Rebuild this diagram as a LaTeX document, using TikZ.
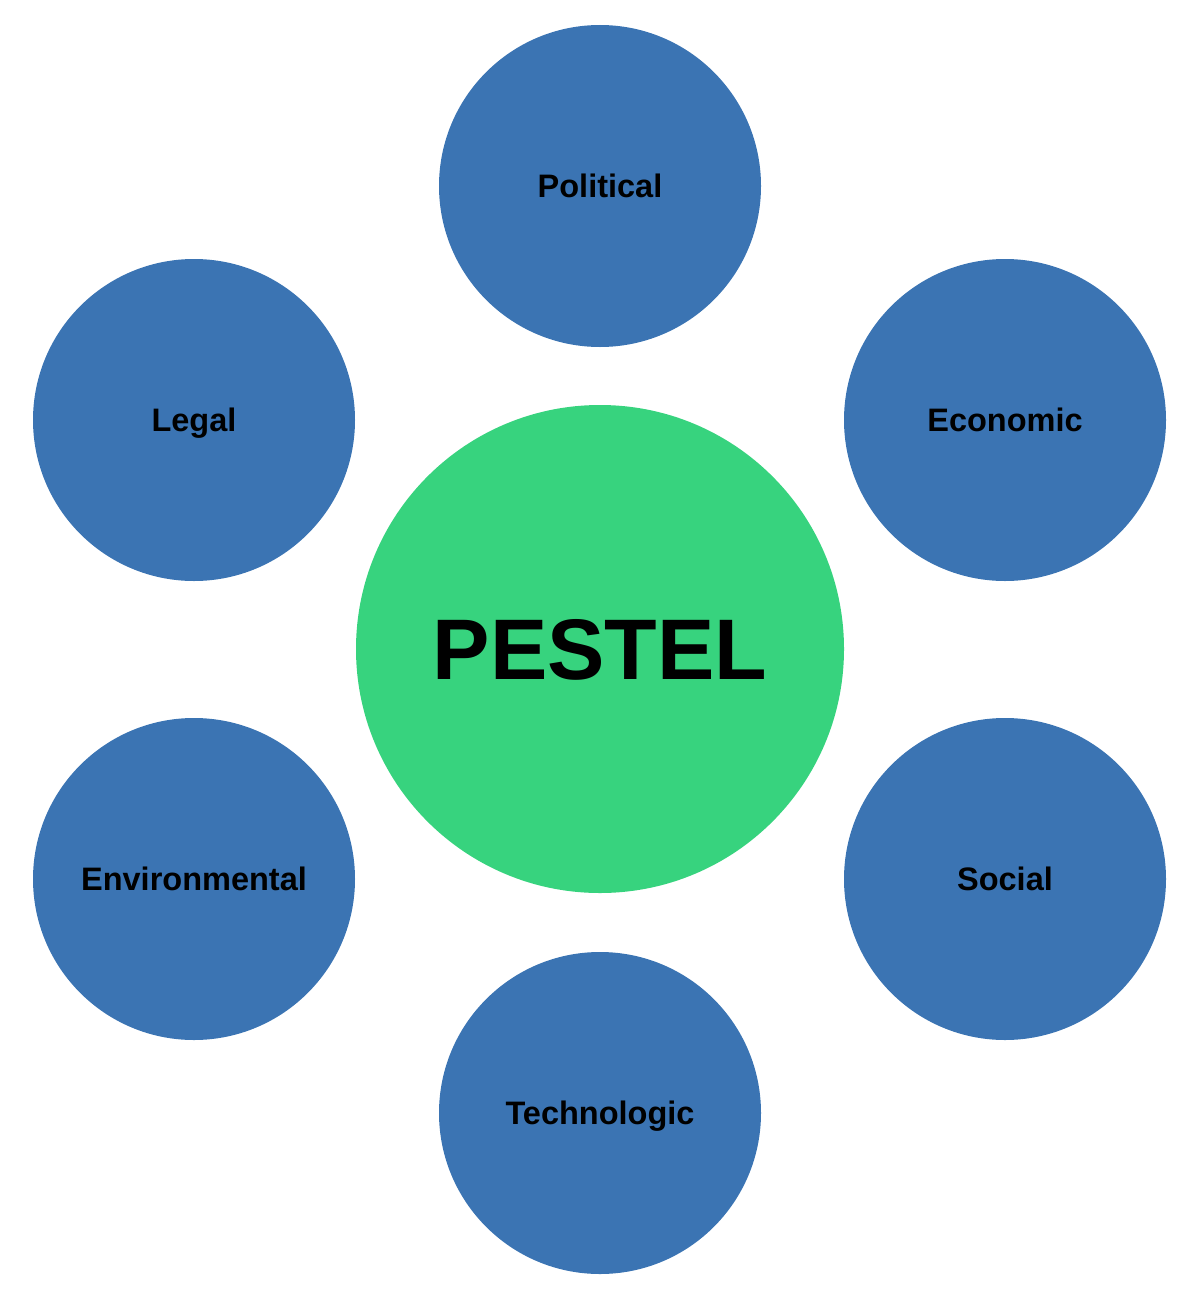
\documentclass[tikz,border=0pt]{standalone}
\usepackage{fontspec}
\setmainfont{Liberation Sans}
\definecolor{factorblue}{RGB}{59,116,179}
\definecolor{coregreen}{RGB}{55,211,126}
\begin{document}
\begin{tikzpicture}[x=1pt,y=1pt,
  factor/.style={circle,fill=factorblue,draw=none,minimum size=322pt,inner sep=0pt,
    font=\fontsize{32.5}{36}\selectfont\bfseries,text=black,text height=23.3pt,text depth=0pt},
  core/.style={circle,fill=coregreen,draw=none,minimum size=488pt,inner sep=0pt,
    font=\fontsize{86}{96}\selectfont\bfseries,text=black,text height=61.6pt,text depth=0pt}]
\useasboundingbox (0,0) rectangle (1200,-1298);
\node[core] (pestel) at (600,-649) {PESTEL};
\node[factor] (pol) at (600,-186) {Political};
\node[factor] (eco) at (1005,-420) {Economic};
\node[factor] (leg) at (194,-420) {Legal};
\node[factor] (soc) at (1005,-879) {Social};
\node[factor] (env) at (194,-879) {Environmental};
\node[factor] (tec) at (600,-1113) {Technologic};
\end{tikzpicture}
\end{document}
